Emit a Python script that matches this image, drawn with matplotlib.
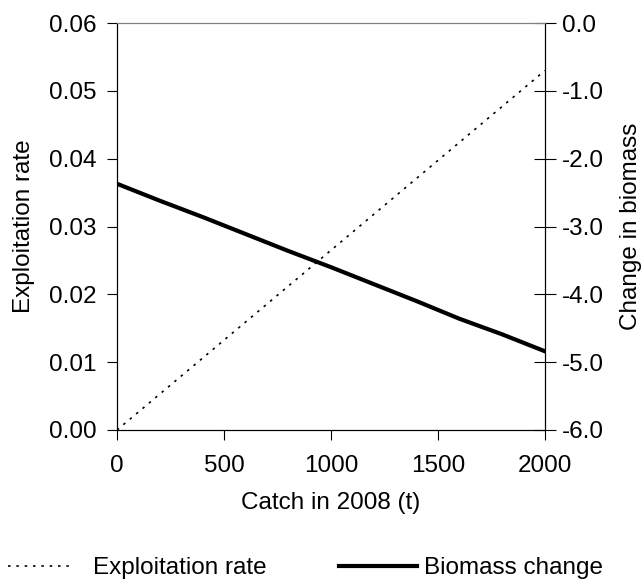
import matplotlib
matplotlib.use('Agg')
import matplotlib.pyplot as plt
from matplotlib.ticker import FormatStrFormatter

plt.rcParams['font.family'] = ['Liberation Sans', 'DejaVu Sans']
plt.rcParams['axes.unicode_minus'] = False

# catch in 2008 (t)
catch = [0, 500, 1000, 1500, 2000]
exploitation_rate = [0.0, 0.01325, 0.0265, 0.03975, 0.053]

catch_b = [0, 200, 400, 600, 800, 1000, 1200, 1400, 1600, 1800, 2000]
biomass_change = [-2.37, -2.62, -2.86, -3.11, -3.36, -3.60, -3.85, -4.10, -4.36, -4.59, -4.84]

FS = 17.5

fig = plt.figure(figsize=(6.42, 5.82), dpi=100)
ax = fig.add_axes([117 / 642, 152 / 582, 428 / 642, 407 / 582])
ax2 = ax.twinx()

l1, = ax.plot(catch, exploitation_rate, color='black', lw=1.2, linestyle=(0, (1.5, 3.5)))
l2, = ax2.plot(catch_b, biomass_change, color='black', lw=3)

ax.set_xlim(0, 2000)
ax.set_ylim(0, 0.06)
ax2.set_ylim(-6, 0)
ax.set_xticks([0, 500, 1000, 1500, 2000])
ax.set_yticks([0, 0.01, 0.02, 0.03, 0.04, 0.05, 0.06])
ax2.set_yticks([-6, -5, -4, -3, -2, -1, 0])
ax.yaxis.set_major_formatter(FormatStrFormatter('%.2f'))
ax2.yaxis.set_major_formatter(FormatStrFormatter('%.1f'))

for a in (ax, ax2):
    a.spines['top'].set_color('#808080')
    a.spines['left'].set_color('black')
    a.spines['right'].set_color('black')
    a.spines['bottom'].set_color('black')
ax.tick_params(axis='y', direction='out', length=7, labelsize=FS, pad=8)
ax.tick_params(axis='x', direction='out', length=7, labelsize=FS, pad=11)
ax2.tick_params(axis='y', direction='inout', length=16, labelsize=FS, pad=4)

ax.set_xlabel('Catch in 2008 (t)', fontsize=FS)
ax.xaxis.set_label_coords(0.5, -0.152)
ax.set_ylabel('Exploitation rate', fontsize=FS)
ax.yaxis.set_label_coords(-0.192, 0.5)
ax2.set_ylabel('Change in biomass', fontsize=FS)
ax2.yaxis.set_label_coords(1.175, 0.5)

fig.legend([l1], ['Exploitation rate'], loc='center left',
           bbox_to_anchor=(8 / 642, 0.024), frameon=False, fontsize=FS,
           handlelength=2.7, handletextpad=0.78, borderpad=0, borderaxespad=0)
fig.legend([l2], ['Biomass change'], loc='center left',
           bbox_to_anchor=(339 / 642, 0.024), frameon=False, fontsize=FS,
           handlelength=3.2, handletextpad=0.3, borderpad=0, borderaxespad=0)

fig.savefig('out.png', dpi=100)
